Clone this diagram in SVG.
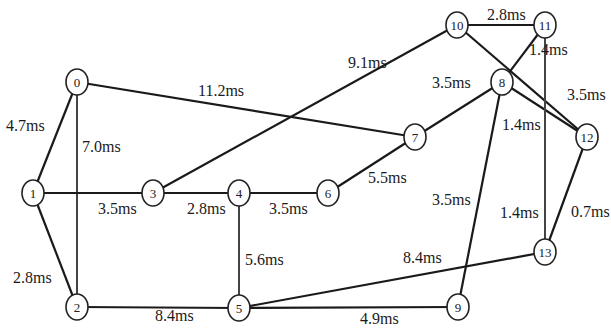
<svg xmlns="http://www.w3.org/2000/svg" width="611" height="331" viewBox="0 0 611 331">
<style>
.e{stroke:#1a1a1a;stroke-width:2.2;fill:none}
.v{stroke:#444;stroke-width:2;fill:none}
.n ellipse{fill:#fff;stroke:#222;stroke-width:1.6}
.n text{font-size:13px;fill:#222;text-anchor:middle}
.l{font-size:16px;fill:#1a1a1a}
</style>
<rect width="611" height="331" fill="#fff"/>
<g id="connectors" font-family="Liberation Serif, Times New Roman, serif">
<line class="e" x1="77" y1="82" x2="33" y2="193"/>
<line class="v" x1="77" y1="82" x2="77" y2="307"/>
<line class="e" x1="77" y1="82" x2="415" y2="137"/>
<line class="e" x1="33" y1="193" x2="153" y2="193"/>
<line class="e" x1="33" y1="193" x2="77" y2="307"/>
<line class="e" x1="153" y1="193" x2="239" y2="193"/>
<line class="e" x1="153" y1="193" x2="457" y2="25"/>
<line class="e" x1="239" y1="193" x2="328" y2="193"/>
<line class="v" x1="239" y1="193" x2="239" y2="308"/>
<line class="e" x1="328" y1="193" x2="415" y2="137"/>
<line class="e" x1="415" y1="137" x2="502" y2="82"/>
<line class="e" x1="502" y1="82" x2="545" y2="25"/>
<line class="e" x1="502" y1="82" x2="587" y2="137"/>
<line class="e" x1="502" y1="82" x2="458" y2="307"/>
<line class="e" x1="457" y1="25" x2="545" y2="25"/>
<line class="e" x1="457" y1="25" x2="587" y2="137"/>
<line class="v" x1="545" y1="25" x2="545" y2="252"/>
<line class="e" x1="587" y1="137" x2="545" y2="252"/>
<line class="e" x1="545" y1="252" x2="239" y2="308"/>
<line class="e" x1="77" y1="307" x2="239" y2="308"/>
<line class="e" x1="239" y1="308" x2="458" y2="307"/>
<text class="l" x="6" y="131">4.7ms</text>
<text class="l" x="82" y="152">7.0ms</text>
<text class="l" x="198" y="96">11.2ms</text>
<text class="l" x="348" y="68">9.1ms</text>
<text class="l" x="487" y="20">2.8ms</text>
<text class="l" x="529" y="55">1.4ms</text>
<text class="l" x="432" y="88">3.5ms</text>
<text class="l" x="567" y="100">3.5ms</text>
<text class="l" x="502" y="130">1.4ms</text>
<text class="l" x="98" y="214">3.5ms</text>
<text class="l" x="187" y="214">2.8ms</text>
<text class="l" x="269" y="214">3.5ms</text>
<text class="l" x="245" y="265">5.6ms</text>
<text class="l" x="13" y="283">2.8ms</text>
<text class="l" x="155" y="321">8.4ms</text>
<text class="l" x="368" y="183">5.5ms</text>
<text class="l" x="432" y="205">3.5ms</text>
<text class="l" x="500" y="218">1.4ms</text>
<text class="l" x="571" y="217">0.7ms</text>
<text class="l" x="403" y="263">8.4ms</text>
<text class="l" x="360" y="324">4.9ms</text>
</g>
<g font-family="Liberation Serif, Times New Roman, serif">
<g id="n0" class="n"><ellipse cx="77" cy="82" rx="11" ry="13"/><text x="77" y="87">0</text></g>
<g id="n1" class="n"><ellipse cx="33" cy="193" rx="11" ry="13"/><text x="33" y="198">1</text></g>
<g id="n2" class="n"><ellipse cx="77" cy="307" rx="11" ry="13"/><text x="77" y="312">2</text></g>
<g id="n3" class="n"><ellipse cx="153" cy="193" rx="11" ry="13"/><text x="153" y="198">3</text></g>
<g id="n4" class="n"><ellipse cx="239" cy="193" rx="11" ry="13"/><text x="239" y="198">4</text></g>
<g id="n5" class="n"><ellipse cx="239" cy="308" rx="11" ry="13"/><text x="239" y="313">5</text></g>
<g id="n6" class="n"><ellipse cx="328" cy="193" rx="11" ry="13"/><text x="328" y="198">6</text></g>
<g id="n7" class="n"><ellipse cx="415" cy="137" rx="11" ry="13"/><text x="415" y="142">7</text></g>
<g id="n8" class="n"><ellipse cx="502" cy="82" rx="11" ry="13"/><text x="502" y="87">8</text></g>
<g id="n9" class="n"><ellipse cx="458" cy="307" rx="11" ry="13"/><text x="458" y="312">9</text></g>
<g id="n10" class="n"><ellipse cx="457" cy="25" rx="11" ry="13"/><text x="457" y="30">10</text></g>
<g id="n11" class="n"><ellipse cx="545" cy="25" rx="11" ry="13"/><text x="545" y="30">11</text></g>
<g id="n12" class="n"><ellipse cx="587" cy="137" rx="11" ry="13"/><text x="587" y="142">12</text></g>
<g id="n13" class="n"><ellipse cx="545" cy="252" rx="11" ry="13"/><text x="545" y="257">13</text></g>
</g>
</svg>
